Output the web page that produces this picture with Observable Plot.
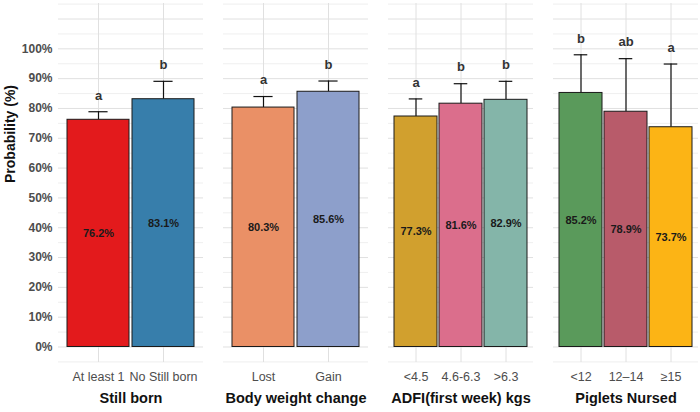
<!DOCTYPE html>
<html>
<head>
<meta charset="utf-8">
<script src="https://cdn.jsdelivr.net/npm/d3@7"></script>
<script src="https://cdn.jsdelivr.net/npm/@observablehq/plot@0.6"></script>
<style>
  html, body { margin: 0; padding: 0; background: #fff; }
  #chart { display: flex; flex-direction: row; align-items: flex-start; width: 700px; height: 412px; overflow: hidden; }
  #chart svg { overflow: visible; max-width: none; }
</style>
</head>
<body>
<div id="chart"></div>
<script>
const groups = ["Still born", "Body weight change", "ADFI(first week) kgs", "Piglets Nursed"];
const categories = [
  ["At least 1", "No Still born"],
  ["Lost", "Gain"],
  ["<4.5", "4.6-6.3", ">6.3"],
  ["<12", "12–14", "≥15"]
];
const values = [
  [76.2, 83.1],
  [80.3, 85.6],
  [77.3, 81.6, 82.9],
  [85.2, 78.9, 73.7]
];
const upper = [
  [78.9, 89.1],
  [84.0, 89.2],
  [83.2, 88.3, 89.1],
  [98.0, 96.7, 94.9]
];
const letters = [
  ["a", "b"],
  ["a", "b"],
  ["a", "b", "b"],
  ["b", "ab", "a"]
];
const colors = [
  ["#E31A1C", "#377EAB"],
  ["#EA9066", "#8D9FCB"],
  ["#D1A02E", "#DB6E8C", "#84B5A9"],
  ["#5A9A5B", "#B85B6A", "#FCB415"]
];
const yTicks = [0, 10, 20, 30, 40, 50, 60, 70, 80, 90, 100];
const gridMajor = [0, 10, 20, 30, 40, 50, 60, 70, 80, 90, 100, 110];
const gridMinor = [-5, 5, 15, 25, 35, 45, 55, 65, 75, 85, 95, 105, 115];

const panelW = 145;
const gap = 20;
const leftM = 58;
const font = "Liberation Sans, Arial, sans-serif";
const container = document.getElementById("chart");

groups.forEach((g, gi) => {
  const data = categories[gi].map((c, i) => ({
    cat: c, value: values[gi][i], upper: upper[gi][i], letter: letters[gi][i], color: colors[gi][i],
    label: values[gi][i].toFixed(1) + "%"
  }));
  const n = data.length;
  const pi = 0.05, po = 0.125;
  const step = panelW / (n - pi + 2 * po);
  const bw = step * (1 - pi);
  const capInset = (bw - 0.3 * step) / 2;
  const first = gi === 0;
  const marks = [
    Plot.gridY(gridMinor, {stroke: "#ebebeb", strokeOpacity: 1, strokeWidth: 0.8}),
    Plot.gridY(gridMajor, {stroke: "#e0e0e0", strokeOpacity: 1, strokeWidth: 1}),
    Plot.gridX(categories[gi], {stroke: "#e0e0e0", strokeOpacity: 1, strokeWidth: 1}),
    Plot.ruleX(data, {x: "cat", y1: "value", y2: "upper", stroke: "#111", strokeWidth: 1.2}),
    Plot.tickY(data, {x: "cat", y: "upper", stroke: "#111", strokeWidth: 1.2, insetLeft: capInset, insetRight: capInset}),
    Plot.barY(data, {x: "cat", y: "value", fill: "color", stroke: "#1a1a1a", strokeWidth: 1, inset: 0}),
    Plot.text(data, {x: "cat", y: d => d.value / 2, text: "label", fontWeight: "bold", fontSize: 11, fill: "#1a1a1a"}),
    Plot.text(data, {x: "cat", y: d => d.upper + 5.5, text: "letter", fontWeight: "bold", fontSize: 13, fill: "#333"}),
    Plot.axisX({tickSize: 0, tickPadding: 10, fontSize: 12.5, fill: "#4d4d4d", label: null}),
    Plot.text([g], {frameAnchor: "bottom", dy: 40, text: d => d, fontWeight: "bold", fontSize: 14.5, fill: "#111"})
  ];
  if (first) {
    marks.push(Plot.axisY(yTicks, {tickSize: 0, tickPadding: 6, fontSize: 12, fontWeight: "bold", fill: "#4d4d4d", tickFormat: d => d + "%", label: null}));
    marks.push(Plot.text(["Probability (%)"], {frameAnchor: "left", dx: -48, rotate: -90, text: d => d, fontWeight: "bold", fontSize: 14, fill: "#111"}));
  } else {
    marks.push(Plot.axisY({ticks: [], label: null}));
  }
  const chart = Plot.plot({
    width: (first ? leftM : 0) + panelW,
    height: 412,
    marginLeft: first ? leftM : 0,
    marginRight: 0,
    marginTop: 3,
    marginBottom: 50,
    style: {fontFamily: font, background: "transparent", overflow: "visible"},
    x: {type: "band", domain: categories[gi], paddingInner: pi, paddingOuter: po, axis: null},
    y: {domain: [-5.2, 115.2], axis: null},
    marks
  });
  if (!first) chart.style.marginLeft = gap + "px";
  container.appendChild(chart);
});
</script>
</body>
</html>
